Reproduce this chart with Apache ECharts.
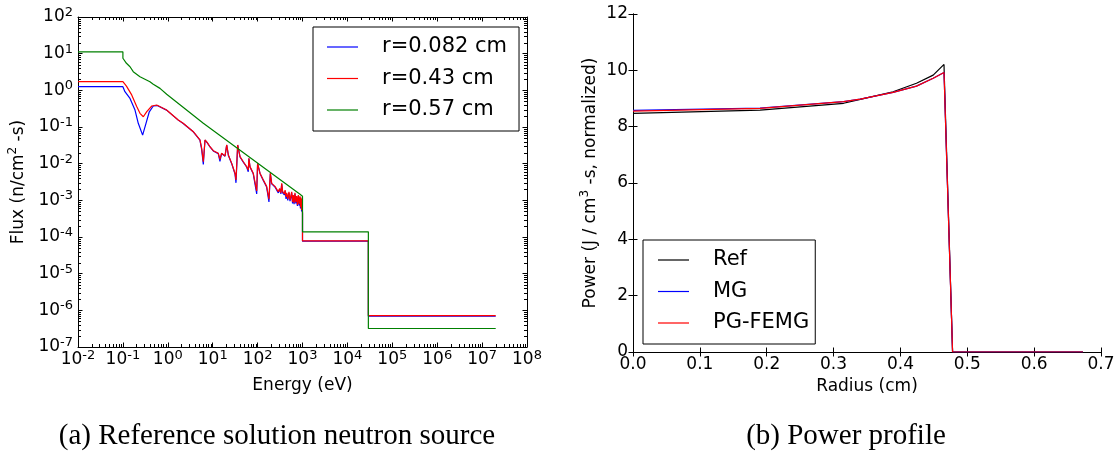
<!DOCTYPE html>
<html>
<head>
<meta charset="utf-8">
<script src="https://cdn.jsdelivr.net/npm/echarts@6/dist/echarts.min.js"></script>
<style>
html, body { margin: 0; padding: 0; background: #fff; }
#chart { width: 1120px; height: 457px; }
</style>
</head>
<body>
<div id="chart"></div>
<script>
// (a) flux vs energy, [eV, n/cm2-s]
const fluxR0082 = [
  [0.01, 1.26], [0.1, 1.26], [0.101, 1.28], [0.111, 0.92], [0.144, 0.6], [0.186, 0.29],
  [0.22, 0.126], [0.275, 0.06], [0.327, 0.126], [0.387, 0.26], [0.475, 0.374], [0.58, 0.385],
  [0.94, 0.288], [1.71, 0.154], [2.2, 0.125], [3.7, 0.074], [5.2, 0.044], [5.69, 0.024],
  [6.18, 0.0095], [6.74, 0.044], [7.59, 0.037], [8.7, 0.0285], [10.3, 0.0222], [13.3, 0.0188],
  [14.5, 0.0115], [15.8, 0.019], [18.8, 0.016], [20.5, 0.032], [22.3, 0.017], [26.5, 0.01],
  [31.4, 0.0052], [33, 0.003], [36, 0.032], [40.6, 0.0152], [48, 0.011], [57, 0.0081],
  [62, 0.006], [64, 0.0138], [67.7, 0.0081], [80, 0.0053], [95.5, 0.0015], [100, 0.01],
  [113, 0.0054], [134, 0.0035], [159, 0.0023], [179, 0.0009], [192, 0.0054], [206, 0.0028],
  [244, 0.0023], [289, 0.0016], [310, 0.002], [330, 0.0015], [344, 0.0028], [362, 0.0016],
  [395, 0.0014], [410, 0.0018], [430, 0.0011], [445, 0.0015], [470, 0.001], [500, 0.0016],
  [527, 0.00095], [550, 0.0012], [575, 0.0016], [600, 0.00082], [624, 0.0013], [650, 0.00078],
  [680, 0.0015], [710, 0.00082], [741, 0.0012], [770, 0.0007], [807, 0.0013], [840, 0.00072],
  [880, 0.0012], [900, 0.0006], [925, 0.0011], [955, 0.0005], [975, 0.001], [1000, 0.00044],
  [1000, 7.7e-5], [29300, 7.7e-5], [29300, 6.9e-7], [2.01e7, 6.9e-7]
];
const fluxR043 = [
  [0.01, 1.72], [0.1, 1.72], [0.101, 1.78], [0.12, 1.3], [0.157, 0.75], [0.203, 0.36],
  [0.24, 0.236], [0.285, 0.19], [0.34, 0.262], [0.44, 0.374], [0.566, 0.398], [0.94, 0.29],
  [1.71, 0.155], [2.2, 0.126], [3.7, 0.0745], [5.2, 0.0443], [5.69, 0.0262], [6.18, 0.0113],
  [6.74, 0.0443], [7.59, 0.0374], [8.7, 0.029], [10.3, 0.0226], [13.3, 0.0192], [14.5, 0.0132],
  [15.8, 0.0192], [18.8, 0.0162], [20.5, 0.0324], [22.3, 0.0173], [26.5, 0.0102], [31.4, 0.0055],
  [33, 0.0036], [36, 0.0324], [40.6, 0.0155], [48, 0.0113], [57, 0.0083], [62, 0.0067],
  [64, 0.014], [67.7, 0.0083], [80, 0.0055], [95.5, 0.0018], [100, 0.0102], [113, 0.0055],
  [134, 0.0036], [159, 0.0024], [179, 0.00107], [192, 0.0055], [206, 0.0029], [244, 0.0024],
  [289, 0.00172], [310, 0.0021], [330, 0.0016], [344, 0.0029], [362, 0.00172], [395, 0.0015],
  [410, 0.0019], [430, 0.00125], [445, 0.0016], [470, 0.0011], [500, 0.0017], [527, 0.00102],
  [550, 0.0013], [575, 0.0017], [600, 0.0009], [624, 0.0014], [650, 0.00085], [680, 0.0016],
  [710, 0.0009], [741, 0.0013], [770, 0.00075], [807, 0.0014], [840, 0.0008], [880, 0.0013],
  [900, 0.00065], [925, 0.0012], [955, 0.00055], [975, 0.0011], [1000, 0.00046],
  [1000, 7.8e-5], [29300, 7.8e-5], [29300, 7.2e-7], [2.01e7, 7.2e-7]
];
const fluxR057 = [
  [0.01, 11.2], [0.1, 11.2], [0.1, 7.5], [0.12, 5.46], [0.144, 4.4], [0.17, 3.23], [0.24, 2.35],
  [0.4, 1.72], [0.475, 1.46], [0.67, 1.13], [0.944, 0.78], [6.18, 0.126], [880, 0.00146],
  [1000, 0.0013], [1000, 1.38e-4], [29300, 1.38e-4], [29300, 3.2e-7], [2.01e7, 3.2e-7]
];
const fluxNames = ['r=0.082 cm', 'r=0.43 cm', 'r=0.57 cm'];

// (b) power vs radius
const radiusRef = [0, 0.19, 0.315, 0.34, 0.389, 0.424, 0.449, 0.4652, 0.4655, 0.478, 0.673];
const powerRef = [8.47, 8.59, 8.83, 8.97, 9.24, 9.54, 9.83, 10.21, 9.9, 0, 0];
const radiusMG = [0, 0.19, 0.315, 0.34, 0.389, 0.424, 0.449, 0.4652, 0.478, 0.673];
const powerMG = [8.58, 8.66, 8.89, 8.98, 9.22, 9.44, 9.72, 9.92, 0, 0];
const powerPG = [8.55, 8.65, 8.89, 8.98, 9.22, 9.44, 9.72, 9.92, 0, 0];
const powerNames = ['Ref', 'MG', 'PG-FEMG'];

const radiusTicks = ['0.0', '0.1', '0.2', '0.3', '0.4', '0.5', '0.6', '0.7'];
const powerTicks = ['0', '2', '4', '6', '8', '10', '12'];

const FONT = 'DejaVu Sans';

// minor ticks of the log axes (2..9 in each decade)
const xMinor = [];
for (let d = -2; d < 8; d++) for (let m = 2; m < 10; m++) xMinor.push([m * Math.pow(10, d), 1e-7]);
const yMinor = [];
for (let d = -7; d < 2; d++) for (let m = 2; m < 10; m++) yMinor.push([0.01, m * Math.pow(10, d)]);

const zip = (a, b) => a.map((v, i) => [v, b[i]]);

const supRich = {
  b: { fontSize: 17, fontFamily: FONT, color: '#000', lineHeight: 22 },
  s: { fontSize: 13, fontFamily: FONT, color: '#000', lineHeight: 12, verticalAlign: 'top' }
};
const nameRich = {
  s: { fontSize: 12, fontFamily: FONT, color: '#000', lineHeight: 11, verticalAlign: 'top' }
};
const powLabel = (v) => '{b|10}{s|' + Math.round(Math.log10(v)) + '}';

const blackLine = () => ({ show: true, lineStyle: { color: '#000', width: 1 } });
const tick = () => ({ show: true, inside: true, length: 4.5, lineStyle: { color: '#000', width: 1 } });
const nameStyle = { fontSize: 17, fontFamily: FONT, color: '#000' };
const yNameStyle = { fontSize: 17, fontFamily: FONT, color: '#000', lineHeight: 24, rich: nameRich };
const labelStyle = { fontSize: 17, fontFamily: FONT, color: '#000' };

function logX(pos, extra) {
  return Object.assign({
    type: 'log', logBase: 10, gridIndex: 0, position: pos, min: 0.01, max: 1e8, interval: 1,
    axisLine: blackLine(), axisTick: tick(), splitLine: { show: false },
    axisLabel: { show: false }
  }, extra);
}
function logY(pos, extra) {
  return Object.assign({
    type: 'log', logBase: 10, gridIndex: 0, position: pos, min: 1e-7, max: 100, interval: 1,
    axisLine: blackLine(), axisTick: tick(), splitLine: { show: false }, axisLabel: { show: false }
  }, extra);
}
function linX(pos, extra) {
  return Object.assign({
    type: 'value', gridIndex: 1, position: pos, min: 0, max: 0.7, interval: 0.1,
    axisLine: blackLine(), axisTick: tick(), splitLine: { show: false }, axisLabel: { show: false }
  }, extra);
}
function linY(pos, extra) {
  return Object.assign({
    type: 'value', gridIndex: 1, position: pos, min: 0, max: 12, interval: 2,
    axisLine: blackLine(), axisTick: tick(), splitLine: { show: false }, axisLabel: { show: false }
  }, extra);
}

function minorX(params, api) {
  const cs = params.coordSys;
  const x = Math.round(api.coord([api.value(0), api.value(1)])[0]) + 0.5;
  const st = { stroke: '#000', lineWidth: 1 };
  return { type: 'group', children: [
    { type: 'line', shape: { x1: x, y1: cs.y + cs.height, x2: x, y2: cs.y + cs.height - 3 }, style: st },
    { type: 'line', shape: { x1: x, y1: cs.y, x2: x, y2: cs.y + 3 }, style: st }
  ] };
}
function minorY(params, api) {
  const cs = params.coordSys;
  const y = Math.round(api.coord([api.value(0), api.value(1)])[1]) + 0.5;
  const st = { stroke: '#000', lineWidth: 1 };
  return { type: 'group', children: [
    { type: 'line', shape: { x1: cs.x, y1: y, x2: cs.x + 3, y2: y }, style: st },
    { type: 'line', shape: { x1: cs.x + cs.width, y1: y, x2: cs.x + cs.width - 3, y2: y }, style: st }
  ] };
}

function line(name, data, color, xi, yi, w) {
  return {
    type: 'line', name: name, data: data, xAxisIndex: xi, yAxisIndex: yi,
    symbol: 'none', showSymbol: false, color: color,
    lineStyle: { color: color, width: w }, itemStyle: { color: color }
  };
}

const legendBase = {
  orient: 'vertical', backgroundColor: '#fff', borderColor: '#000', borderWidth: 1, borderRadius: 0,
  icon: 'rect', itemGap: 7.5, itemWidth: 31, itemHeight: 1.2, selectedMode: false,
  textStyle: { fontSize: 21, fontFamily: FONT, color: '#000', lineHeight: 24, padding: [0, 0, 0, 19] }
};

const chart = echarts.init(document.getElementById('chart'));
chart.setOption({
  animation: false,
  backgroundColor: '#fff',
  grid: [
    { left: 78, top: 17, width: 449, height: 330, containLabel: false, outerBoundsMode: 'none' },
    { left: 633, top: 14, width: 468, height: 338, containLabel: false, outerBoundsMode: 'none' }
  ],
  xAxis: [
    logX('bottom', {
      axisLabel: { show: true, formatter: powLabel, rich: supRich, margin: 2, hideOverlap: false, showMinLabel: true, showMaxLabel: true },
      name: 'Energy (eV)', nameLocation: 'middle', nameGap: 30, nameTextStyle: nameStyle
    }),
    logX('top', {}),
    linX('bottom', {
      axisLabel: Object.assign({ show: true, margin: 4, formatter: (v) => radiusTicks[Math.round(v * 10)] }, labelStyle),
      name: 'Radius (cm)', nameLocation: 'middle', nameGap: 25, nameTextStyle: nameStyle
    }),
    linX('top', {})
  ],
  yAxis: [
    logY('left', {
      axisLabel: { show: true, formatter: powLabel, rich: supRich, margin: 5, hideOverlap: false },
      name: 'Flux (n/cm{s|2} -s)', nameLocation: 'middle', nameGap: 47, nameTextStyle: yNameStyle
    }),
    logY('right', {}),
    linY('left', {
      axisLabel: Object.assign({ show: true, margin: 5, formatter: (v) => powerTicks[Math.round(v / 2)] }, labelStyle),
      name: 'Power (J / cm{s|3} -s, normalized)', nameLocation: 'middle', nameGap: 26, nameTextStyle: yNameStyle
    }),
    linY('right', {})
  ],
  legend: [
    Object.assign({}, legendBase, { data: fluxNames, left: 313, top: 27, padding: [8, 12, 9, 14] }),
    Object.assign({}, legendBase, { data: powerNames, left: 643, top: 240, padding: [8, 6, 9, 15] })
  ],
  series: [
    line(fluxNames[0], fluxR0082, '#0000ff', 0, 0, 1.2),
    line(fluxNames[1], fluxR043, '#ff0000', 0, 0, 1.2),
    line(fluxNames[2], fluxR057, '#008000', 0, 0, 1.2),
    { type: 'custom', xAxisIndex: 0, yAxisIndex: 0, data: xMinor, renderItem: minorX, silent: true, clip: false, z: 5 },
    { type: 'custom', xAxisIndex: 0, yAxisIndex: 0, data: yMinor, renderItem: minorY, silent: true, clip: false, z: 5 },
    line(powerNames[0], zip(radiusRef, powerRef), '#000000', 2, 2, 1.2),
    line(powerNames[1], zip(radiusMG, powerMG), '#0000ff', 2, 2, 1.2),
    line(powerNames[2], zip(radiusMG, powerPG), '#ff0000', 2, 2, 1.2)
  ],
  graphic: [
    { type: 'text', x: 277, y: 436, style: { text: '(a) Reference solution neutron source', fontSize: 29, fontFamily: 'Liberation Serif', fill: '#000', align: 'center', verticalAlign: 'middle' } },
    { type: 'text', x: 846, y: 436, style: { text: '(b) Power profile', fontSize: 29, fontFamily: 'Liberation Serif', fill: '#000', align: 'center', verticalAlign: 'middle' } }
  ]
});
</script>
</body>
</html>
